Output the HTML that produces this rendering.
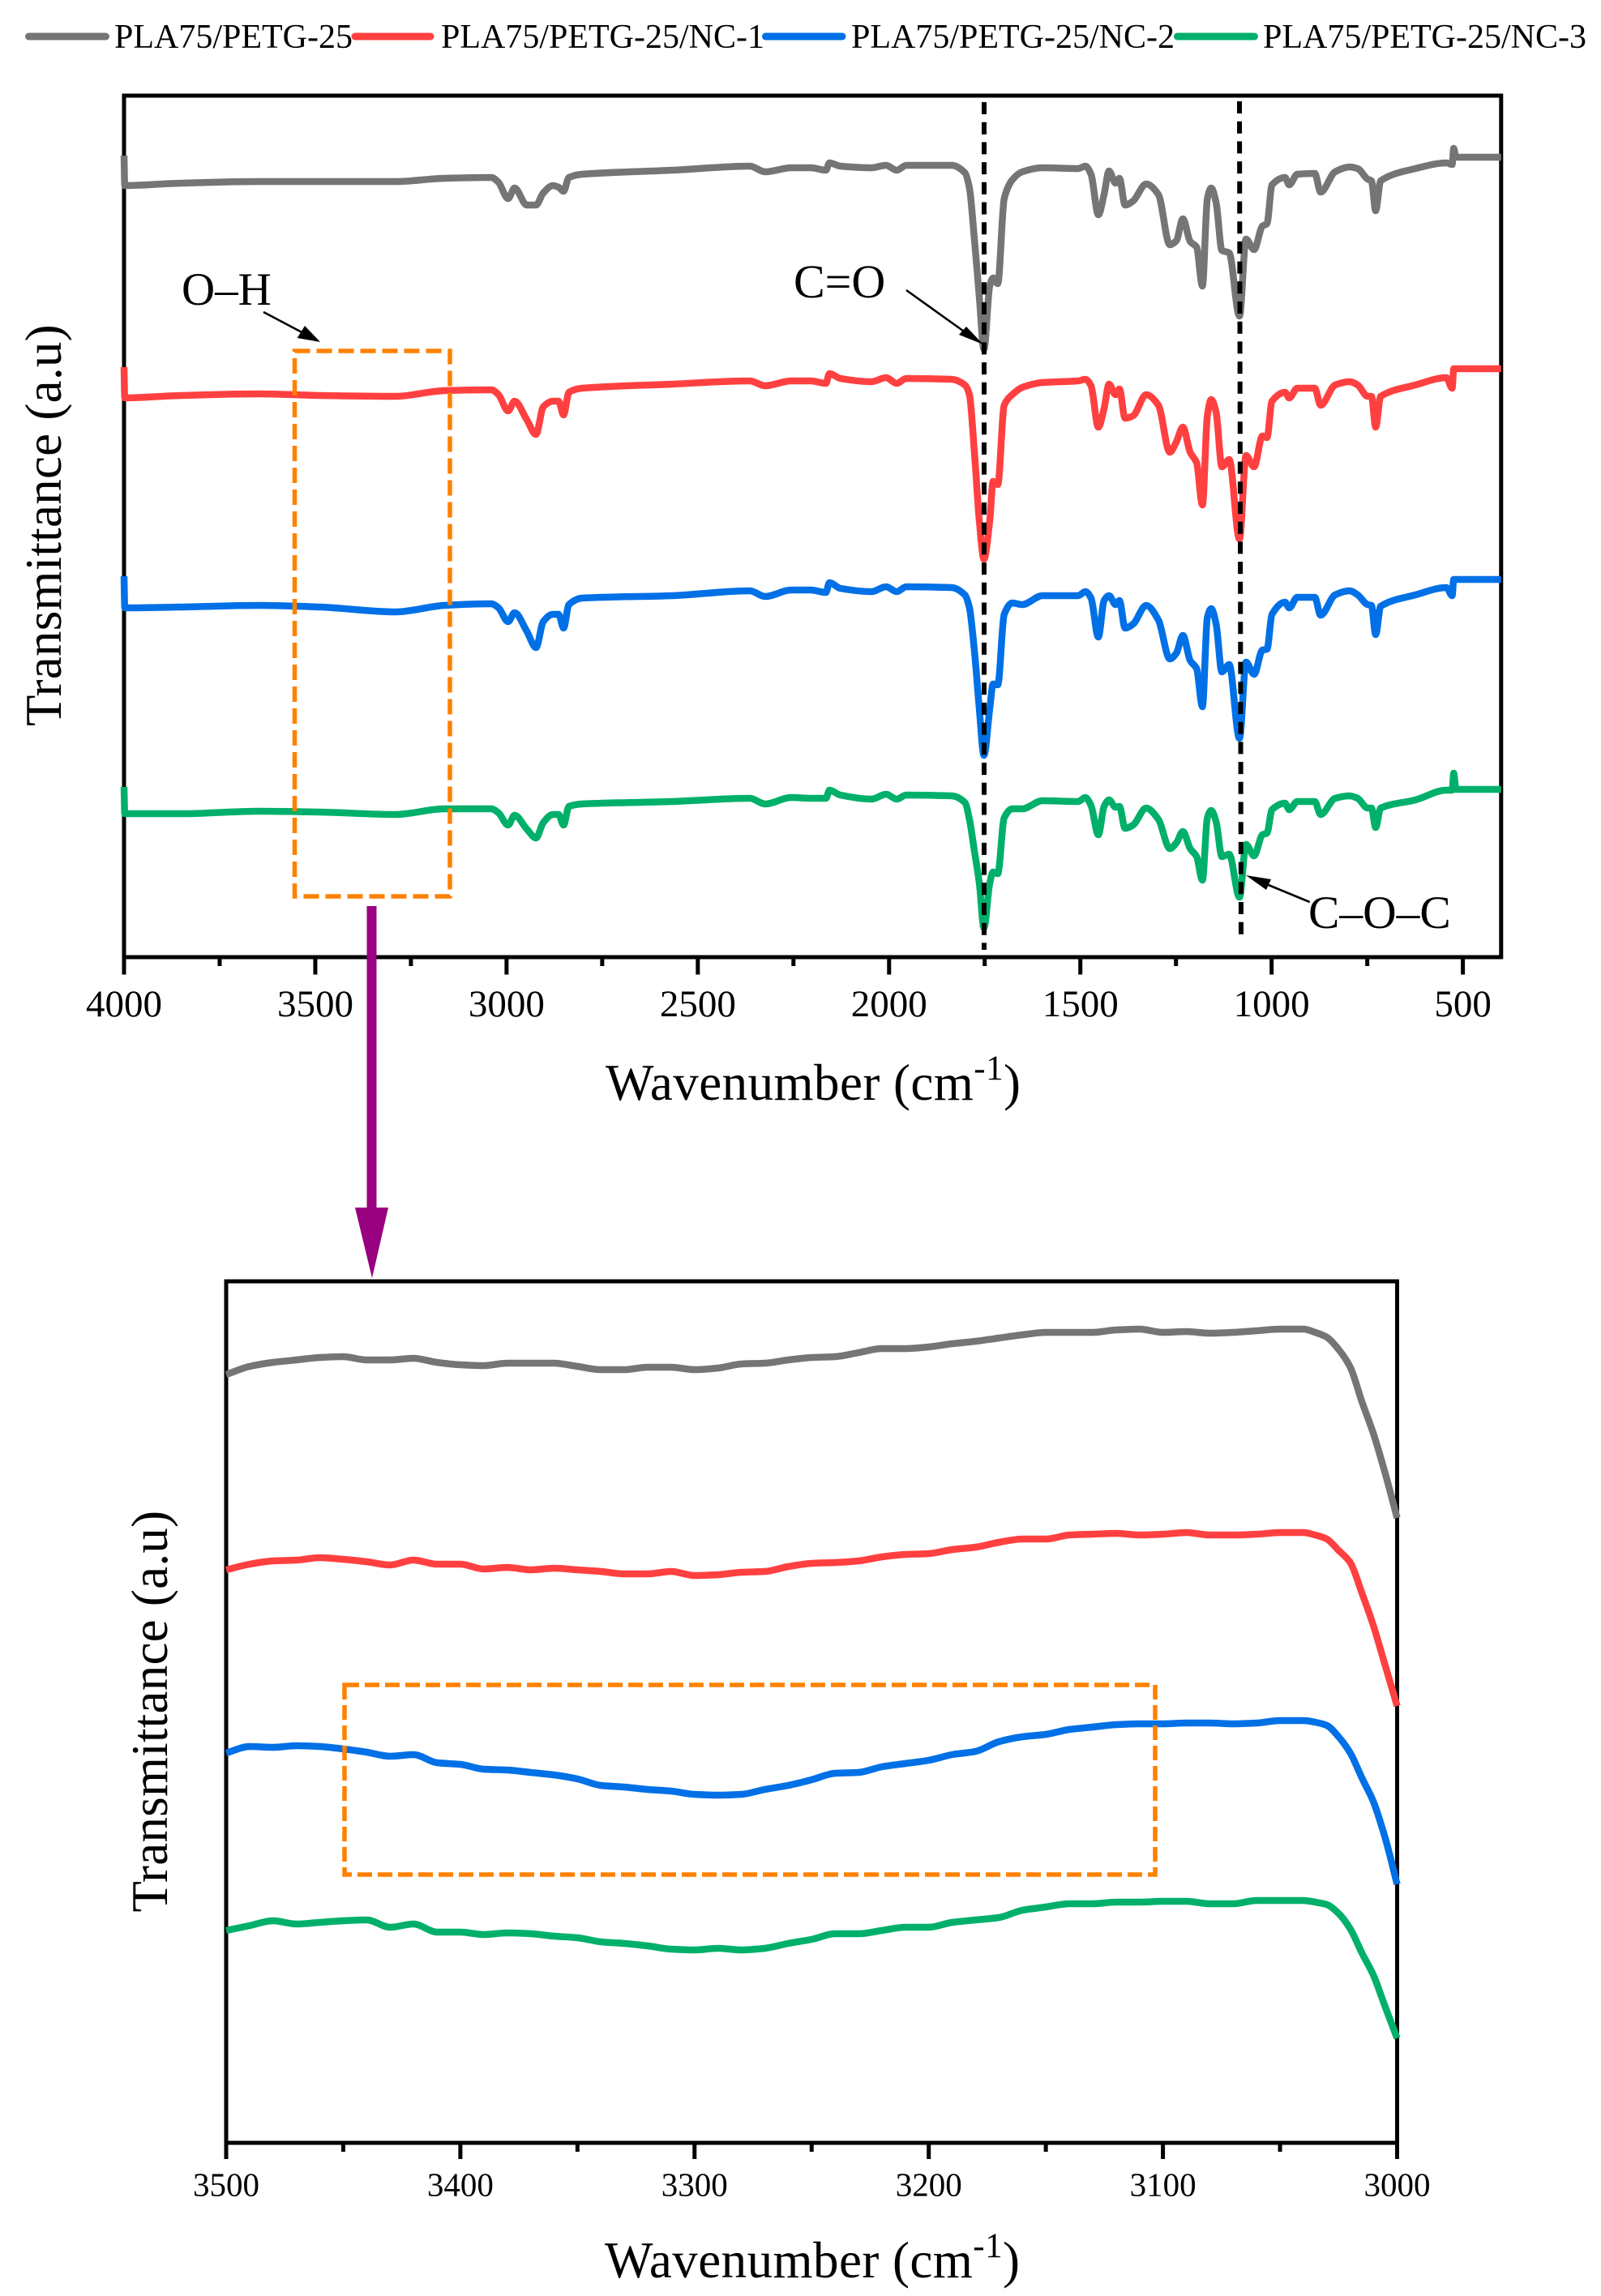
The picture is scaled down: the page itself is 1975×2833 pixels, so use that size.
<!DOCTYPE html>
<html lang="en">
<head>
<meta charset="utf-8">
<title>FTIR spectra of PLA75/PETG-25 nanocomposites</title>
<style>
html,body{margin:0;padding:0;background:#fff;}
svg{display:block;font-family:"Liberation Serif","Times New Roman",serif;fill:#000;}
.spine{fill:none;stroke:#000;stroke-width:5;}
.tick{stroke:#000;stroke-width:5;}
.series{fill:none;stroke-width:8.5;stroke-linejoin:round;stroke-linecap:butt;}
.orange{fill:none;stroke:#ff8000;stroke-width:5.5;}
.guide{stroke:#000;stroke-width:6;stroke-dasharray:15 9.7;}
.ann{stroke:#000;stroke-width:2.6;}
.ytitle{letter-spacing:.25px;}
.xtitle{letter-spacing:.45px;}
</style>
</head>
<body>
<svg id="fig" xmlns="http://www.w3.org/2000/svg" width="1975" height="2833" viewBox="0 0 1975 2833">
  <rect x="0" y="0" width="1975" height="2833" fill="#fff"/>

  <g font-size="42">
    <line x1="35.5" y1="45" x2="130.5" y2="45" stroke="#757575" stroke-width="9" stroke-linecap="round"/>
    <text x="141" y="59">PLA75/PETG-25</text>
    <line x1="438" y1="45" x2="531" y2="45" stroke="#ff4040" stroke-width="9" stroke-linecap="round"/>
    <text x="544" y="59">PLA75/PETG-25/NC-1</text>
    <line x1="944.5" y1="45" x2="1039" y2="45" stroke="#0070e6" stroke-width="9" stroke-linecap="round"/>
    <text x="1050" y="59">PLA75/PETG-25/NC-2</text>
    <line x1="1452.5" y1="45" x2="1547.5" y2="45" stroke="#00b06a" stroke-width="9" stroke-linecap="round"/>
    <text x="1558" y="59">PLA75/PETG-25/NC-3</text>
  </g>

  <g id="top-axes">
    <rect class="spine" x="153" y="118" width="1698.8" height="1063"/>
  </g>
  <g id="low-axes">
    <rect class="spine" x="279" y="1581" width="1444.5" height="1063"/>
  </g>
  <g id="top-series"></g>
  <g id="low-series"></g>

  <text class="ytitle" transform="translate(75,896) rotate(-90)" font-size="63">Transmittance (a.u)</text>
  <text class="xtitle" x="747" y="1357" font-size="63">Wavenumber (cm<tspan font-size="43" dy="-25">-1</tspan><tspan dy="25">)</tspan></text>
  <text class="ytitle" transform="translate(206,2359.5) rotate(-90)" font-size="63">Transmittance (a.u)</text>
  <text class="xtitle" x="746" y="2810" font-size="63">Wavenumber (cm<tspan font-size="43" dy="-25">-1</tspan><tspan dy="25">)</tspan></text>

  <rect class="orange" x="363.5" y="433" width="191.5" height="673" stroke-dasharray="19 8"/>
  <rect class="orange" x="425" y="2079" width="1000" height="234" stroke-dasharray="18 7"/>

  <line class="guide" x1="1214" y1="126" x2="1214" y2="1172"/>
  <line class="guide" x1="1529" y1="125" x2="1531" y2="1155"/>

  <g>
    <text x="224" y="376" font-size="57">O–H</text>
    <line class="ann" x1="325" y1="385" x2="378" y2="413"/>
    <polygon points="395,422 366.7,417 376,402"/>
  </g>
  <g>
    <text x="979" y="367" font-size="58">C=O</text>
    <line class="ann" x1="1118" y1="358" x2="1192" y2="411"/>
    <polygon points="1213,425 1183,413 1192,403"/>
  </g>
  <g>
    <text x="1614" y="1145" font-size="57.5">C–O–C</text>
    <line class="ann" x1="1615.7" y1="1113" x2="1560" y2="1090"/>
    <polygon points="1537,1080 1568,1085 1562,1098"/>
  </g>

  <g>
    <rect x="452.5" y="1118" width="12" height="374" fill="#990080"/>
    <polygon points="438,1490 479,1490 459,1577" fill="#990080"/>
  </g>
</svg>

<script>
const topWavenumbers = [4000,3998,3852,3648,3487,3290,3163,3040,3021,2996,2979,2947,2923,2904,2879,2864,2851,2837,2803,2567,2364,2324,2256,2205,2165,2156,2127,2046,2008,1980,1955,1836,1802,1790,1777,1764,1752,1737,1728,1716,1699,1678,1652,1599,1506,1487,1472,1453,1438,1425,1408,1398,1383,1362,1328,1296,1266,1249,1232,1213,1196,1181,1168,1158,1145,1130,1111,1084,1067,1046,1024,1012,999,965,954,933,887,872,834,796,775,749,739,728,715,624,543,528,524,518,400];
const topNeat = [98.9,95.2,95.5,95.7,95.7,95.7,96.1,96.2,95.6,93.6,94.9,92.8,92.8,94.3,95.2,95.0,94.5,96.2,96.6,97.1,97.6,96.9,97.4,97.4,97.1,98.0,97.6,97.4,97.7,97.1,97.7,97.7,96.8,94.9,88.6,81.4,75.0,82.8,83.8,83.1,93.6,95.9,96.9,97.4,97.3,97.6,96.6,91.6,94.1,97.0,95.5,96.1,92.8,93.3,95.4,94.1,87.9,88.4,91.1,88.3,87.6,82.8,93.6,94.9,93.1,87.2,86.9,79.1,88.6,87.3,90.2,90.5,95.3,96.2,95.3,96.6,96.7,94.4,96.9,97.5,97.3,96.0,95.8,92.1,95.8,97.3,98.0,97.8,99.8,98.7,98.7];
const topNc1 = [72.8,69.0,69.3,69.5,69.3,69.2,69.9,70.0,69.4,67.4,68.6,66.3,64.5,67.9,68.6,68.6,66.9,69.7,70.2,70.7,71.1,70.5,71.1,71.1,70.8,72.0,71.4,71.0,71.5,70.8,71.4,71.3,70.6,69.4,62.3,53.8,49.1,53.8,58.7,58.3,68.1,69.4,70.3,70.9,71.1,71.3,70.5,65.4,67.7,70.7,69.4,70.1,66.5,66.8,69.4,68.1,62.3,63.6,65.4,62.3,61.0,55.8,66.8,68.8,67.2,60.5,61.4,51.6,61.9,60.5,64.3,64.1,68.6,69.7,69.0,70.2,70.2,68.1,70.6,71.0,70.6,69.2,69.2,65.4,69.2,70.6,71.5,70.2,72.6,72.6,72.6];
const topNc2 = [47.0,43.1,43.2,43.4,43.2,42.6,43.4,43.6,43.1,41.4,42.5,40.2,38.2,41.4,42.3,42.3,40.6,43.5,44.3,44.6,45.2,44.5,45.3,45.3,45.0,46.2,45.5,45.1,45.7,45.1,45.7,45.6,44.7,43.1,37.8,30.6,24.9,30.6,33.7,33.6,42.3,43.7,43.5,44.6,44.6,45.1,44.3,39.5,44.0,44.6,43.5,44.0,40.6,41.1,43.4,41.6,36.8,37.5,39.7,36.6,35.6,30.9,41.9,43.0,41.1,35.2,36.1,27.0,36.4,34.9,37.9,38.0,42.3,43.8,43.1,44.4,44.4,42.2,44.7,45.2,44.7,43.5,43.4,39.8,43.3,44.7,45.6,44.6,46.6,46.6,46.6];
const topNc3 = [21.0,17.7,17.7,18.0,17.9,17.6,18.3,18.3,17.8,16.3,17.5,15.8,14.7,16.6,17.6,17.6,16.3,18.6,18.9,19.2,19.6,18.9,19.7,19.6,19.6,20.6,20.0,19.5,20.1,19.5,20.0,19.9,19.1,17.0,13.1,9.1,3.6,9.1,10.5,10.3,17.2,18.3,18.3,19.3,19.2,19.7,18.7,15.1,18.6,19.4,18.5,18.6,15.9,16.3,18.4,17.0,13.4,14.1,15.5,13.4,12.4,9.5,17.2,18.1,16.7,12.4,12.7,7.4,13.9,12.5,15.1,15.3,18.2,19.0,18.2,19.2,19.2,17.6,19.6,19.9,19.6,18.4,18.4,16.0,18.4,19.4,20.6,20.6,22.7,20.7,20.7];
const topMajorTicks = [4000,3500,3000,2500,2000,1500,1000,500];
const topMinorTicks = [3750,3250,2750,2250,1750,1250,750];
const topTickLabels = ["4000","3500","3000","2500","2000","1500","1000","500"];

const lowWavenumbers = [3500,3490,3480,3470,3460,3450,3440,3430,3420,3410,3400,3390,3380,3370,3360,3350,3340,3330,3320,3310,3300,3290,3280,3270,3260,3250,3240,3230,3220,3210,3200,3190,3180,3170,3160,3150,3140,3130,3120,3110,3100,3090,3080,3070,3060,3050,3040,3035,3030,3025,3020,3015,3010,3005,3000];
const lowNeat = [94.8,95.8,96.3,96.6,96.9,97.0,96.6,96.6,96.8,96.3,96.0,95.9,96.2,96.2,96.2,95.8,95.4,95.4,95.7,95.7,95.4,95.6,96.1,96.2,96.6,96.9,97.0,97.5,98.0,98.0,98.2,98.6,98.9,99.3,99.7,100.0,100.0,100.0,100.3,100.4,100.0,100.1,99.9,100.0,100.2,100.4,100.4,100.0,99.4,97.9,95.7,91.4,87.4,82.5,77.1];
const lowNc1 = [70.7,71.4,71.8,71.9,72.2,72.0,71.7,71.3,71.9,71.4,71.4,70.8,71.0,70.7,70.9,70.7,70.5,70.2,70.2,70.5,70.0,70.1,70.4,70.5,71.1,71.5,71.6,71.8,72.3,72.6,72.7,73.2,73.5,74.1,74.5,74.5,75.0,75.1,75.2,75.0,75.1,75.3,75.0,75.0,75.1,75.3,75.3,75.0,74.5,73.1,71.6,67.8,63.7,58.8,53.9];
const lowNc2 = [48.1,48.9,48.8,49.0,48.9,48.6,48.2,47.7,47.9,46.9,46.7,46.1,46.0,45.7,45.4,44.9,44.1,43.9,43.6,43.4,43.0,42.9,43.0,43.6,44.1,44.8,45.6,45.7,46.4,46.8,47.2,47.9,48.3,49.5,50.1,50.4,51.0,51.3,51.6,51.7,51.7,51.8,51.8,51.7,51.8,52.1,52.1,51.9,51.5,50.1,48.1,45.0,42.0,37.5,31.9];
const lowNc3 = [26.2,26.8,27.4,27.0,27.2,27.4,27.5,26.6,27.0,26.0,26.0,25.7,25.9,25.8,25.5,25.3,24.8,24.6,24.3,23.9,23.8,24.0,23.8,24.0,24.6,25.1,25.8,25.8,26.2,26.6,26.6,27.2,27.5,27.8,28.7,29.1,29.5,29.5,29.7,29.7,29.8,29.8,29.5,29.5,29.9,29.9,29.9,29.7,29.4,28.3,26.4,23.4,20.6,16.7,12.9];
const lowMajorTicks = [3500,3400,3300,3200,3100,3000];
const lowMinorTicks = [3450,3350,3250,3150,3050];
const lowTickLabels = ["3500","3400","3300","3200","3100","3000"];

const seriesNames = ["pla-petg","nc-1","nc-2","nc-3"];
const seriesColors = ["#757575","#ff4040","#0070e6","#00b06a"];

const NS = "http://www.w3.org/2000/svg";
function linearScale(d0, d1, r0, r1) {
  return function (v) { return r0 + (v - d0) * (r1 - r0) / (d1 - d0); };
}
const topX = linearScale(4000, 400, 153, 1851.8);
const topY = linearScale(0, 106.3, 1181, 118);
const lowX = linearScale(3500, 3000, 279, 1723.5);
const lowY = linearScale(0, 106.3, 2644, 1581);

function drawTicks(groupId, xScale, baseY, majors, minors, labels, majorLen, minorLen, labelY, labelSize) {
  const g = document.getElementById(groupId);
  majors.forEach(function (w, i) {
    const t = document.createElementNS(NS, "line");
    t.setAttribute("class", "tick");
    t.setAttribute("x1", xScale(w));
    t.setAttribute("x2", xScale(w));
    t.setAttribute("y1", baseY);
    t.setAttribute("y2", baseY + majorLen);
    
    
    g.appendChild(t);
    const s = document.createElementNS(NS, "text");
    s.setAttribute("x", xScale(w));
    s.setAttribute("y", labelY);
    s.setAttribute("text-anchor", "middle");
    s.setAttribute("font-size", labelSize);
    
    
    s.textContent = labels[i];
    g.appendChild(s);
  });
  minors.forEach(function (w) {
    const t = document.createElementNS(NS, "line");
    t.setAttribute("class", "tick");
    t.setAttribute("x1", xScale(w));
    t.setAttribute("x2", xScale(w));
    t.setAttribute("y1", baseY);
    t.setAttribute("y2", baseY + minorLen);
    
    
    g.appendChild(t);
  });
}

/* Monotone cubic path: rounded peaks with no overshoot past the read values. */
function smoothPath(px, py) {
  const n = px.length;
  const seg = [];
  for (let i = 0; i < n - 1; i++) seg.push((py[i + 1] - py[i]) / (px[i + 1] - px[i]));
  const m = [seg[0]];
  for (let i = 1; i < n - 1; i++) {
    m.push(seg[i - 1] * seg[i] <= 0 ? 0 : 2 * seg[i - 1] * seg[i] / (seg[i - 1] + seg[i]));
  }
  m.push(seg[n - 2]);
  let d = "M" + px[0].toFixed(1) + "," + py[0].toFixed(1);
  for (let i = 0; i < n - 1; i++) {
    const h = (px[i + 1] - px[i]) / 3;
    d += "C" + (px[i] + h).toFixed(1) + "," + (py[i] + m[i] * h).toFixed(1) + " " +
         (px[i + 1] - h).toFixed(1) + "," + (py[i + 1] - m[i + 1] * h).toFixed(1) + " " +
         px[i + 1].toFixed(1) + "," + py[i + 1].toFixed(1);
  }
  return d;
}

function drawSeries(groupId, prefix, xs, values, xScale, yScale) {
  const g = document.getElementById(groupId);
  values.forEach(function (vals, k) {
    const p = document.createElementNS(NS, "path");
    p.setAttribute("d", smoothPath(xs.map(xScale), vals.map(yScale)));
    p.setAttribute("class", "series");
    p.setAttribute("stroke", seriesColors[k]);
    
    
    p.setAttribute("data-series", prefix + "-" + seriesNames[k]);
    g.appendChild(p);
  });
}

drawTicks("top-axes", topX, 1181, topMajorTicks, topMinorTicks, topTickLabels, 21.5, 11, 1254, 47);
drawTicks("low-axes", lowX, 2644, lowMajorTicks, lowMinorTicks, lowTickLabels, 20, 11, 2709.5, 41);
drawSeries("top-series", "full", topWavenumbers, [topNeat, topNc1, topNc2, topNc3], topX, topY);
drawSeries("low-series", "zoom", lowWavenumbers, [lowNeat, lowNc1, lowNc2, lowNc3], lowX, lowY);
</script>
</body>
</html>
